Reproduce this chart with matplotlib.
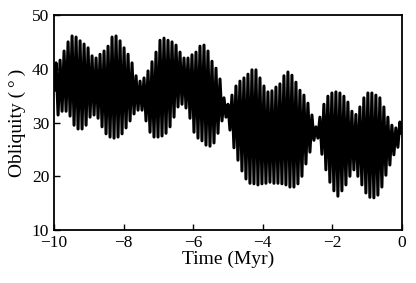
import numpy as np
import matplotlib.pyplot as plt

# obliquity extremes, one peak and one trough per cycle
peaks = [41.1, 41.6, 43.3, 45.0, 46.1, 45.9, 45.2, 44.6, 43.9, 42.4,
         42.0, 42.7, 43.3, 44.2, 45.9, 46.1, 45.2, 43.9, 42.7, 41.1,
         38.7, 37.7, 38.3, 39.6, 41.3, 43.1, 45.3, 45.7, 45.3, 45.0,
         44.4, 43.1, 42.0, 42.0, 42.6, 43.1, 44.2, 44.4, 43.3, 41.4,
         40.1, 38.1, 34.6, 33.4, 35.1, 36.8, 37.7, 38.3, 39.0, 39.8,
         39.8, 38.3, 36.8, 35.7, 35.9, 36.6, 37.2, 38.7, 39.4, 38.8,
         37.5, 36.0, 35.1, 33.6, 31.4, 29.2, 31.0, 33.4, 34.9, 35.5,
         35.7, 35.5, 34.9, 33.8, 32.1, 31.5, 32.9, 34.6, 35.5, 35.5,
         35.1, 34.6, 32.9, 31.0, 29.5, 29.0, 30.1]
troughs = [31.4, 32.1, 32.1, 31.2, 29.5, 28.8, 28.8, 29.5, 31.0, 31.4,
           30.8, 29.2, 27.9, 27.3, 27.1, 27.3, 27.9, 29.0, 30.3, 31.6,
           32.3, 32.3, 30.3, 28.2, 27.3, 27.3, 27.5, 28.0, 29.2, 31.0,
           32.9, 33.4, 32.7, 30.8, 28.2, 27.1, 26.6, 25.8, 25.6, 26.2,
           28.0, 30.3, 31.0, 28.6, 25.3, 23.0, 21.0, 19.5, 18.7, 18.6,
           18.4, 18.6, 18.7, 18.9, 18.7, 18.7, 18.6, 18.4, 18.0, 18.0,
           18.6, 20.0, 22.3, 24.5, 26.7, 27.1, 24.1, 21.2, 18.9, 17.3,
           16.3, 17.3, 18.4, 20.0, 21.2, 20.0, 18.4, 16.9, 16.1, 16.0,
           16.5, 18.0, 20.2, 22.1, 24.0, 25.4]
start_val = 36.0
end_val = 28.0

obliquity = [start_val]
for i in range(len(peaks)):
    obliquity.append(peaks[i])
    if i < len(troughs):
        obliquity.append(troughs[i])
obliquity.append(end_val)
time = np.linspace(-10, 0, len(obliquity))

plt.rcParams['font.family'] = 'Liberation Serif'

fig = plt.figure(figsize=(4.16, 2.83), dpi=100)
ax = fig.add_axes([0.130, 0.187, 0.836, 0.760])
ax.plot(time, obliquity, color='black', lw=2.2)

ax.set_xlim(-10, 0)
ax.set_ylim(10, 50)
ax.set_xticks([-10, -8, -6, -4, -2, 0])
ax.set_yticks([10, 20, 30, 40, 50])
ax.tick_params(direction='in', length=4, width=1, labelsize=12.5, top=False, right=False)
for s in ax.spines.values():
    s.set_linewidth(1.3)
ax.set_xlabel('Time (Myr)', fontsize=14, labelpad=0)
ax.set_ylabel('Obliquity (\u2009\u00b0\u2009)', fontsize=14, labelpad=4)

fig.savefig('out.png', dpi=100)
